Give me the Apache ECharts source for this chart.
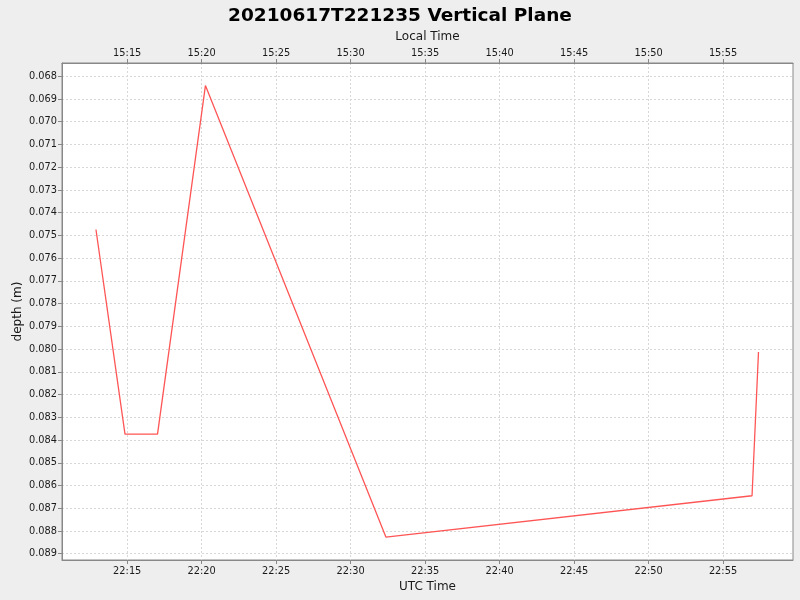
<!DOCTYPE html>
<html>
<head>
<meta charset="utf-8">
<script src="https://cdn.jsdelivr.net/npm/echarts@6/dist/echarts.min.js"></script>
<style>
html,body{margin:0;padding:0;background:#eeeeee;}
#c{width:800px;height:600px;}
</style>
</head>
<body>
<div id="c"></div>
<script>
// UTC times of samples (HH:MM:SS)
const utcTimes = ['22:12:54','22:14:51','22:17:02','22:20:15','22:32:22','22:56:57','22:57:23'];
// depth values (m)
const depths = [0.07474, 0.08374, 0.08374, 0.06841, 0.08827, 0.08645, 0.08013];
// tick labels
const utcTickLabels = ['22:15','22:20','22:25','22:30','22:35','22:40','22:45','22:50','22:55'];
const localTickLabels = ['15:15','15:20','15:25','15:30','15:35','15:40','15:45','15:50','15:55'];
const depthTicks = ['0.068','0.069','0.070','0.071','0.072','0.073','0.074','0.075','0.076','0.077','0.078','0.079','0.080','0.081','0.082','0.083','0.084','0.085','0.086','0.087','0.088','0.089'];

function toMin(s){const p=s.split(':').map(Number);return p[0]*60+p[1]+(p[2]||0)/60;}
const xTickVals = utcTickLabels.map(toMin);
const yTickVals = depthTicks.map(Number);
const seriesData = utcTimes.map((t,i)=>[toMin(t), depths[i]]);

const font = 'DejaVu Sans';
const labelColor = '#1a1a1a';
const fmtUtc = v => { const r=Math.round(v); const i=xTickVals.findIndex(t=>Math.round(t)===r); return i>=0?utcTickLabels[i]:''; };
const fmtLocal = v => { const r=Math.round(v); const i=xTickVals.findIndex(t=>Math.round(t)===r); return i>=0?localTickLabels[i]:''; };

const chart = echarts.init(document.getElementById('c'), null, {renderer:'canvas'});
chart.setOption({
  backgroundColor:'#eeeeee',
  animation:false,
  title:{text:'20210617T221235 Vertical Plane', left:'center', top:2,
    textStyle:{fontFamily:font, fontSize:18.5, fontWeight:'bold', color:'#000'}},
  grid:{left:62, right:7, top:63, bottom:40, containLabel:false, outerBoundsMode:'none',
    show:true, backgroundColor:'#ffffff', borderColor:'#888888', borderWidth:1},
  xAxis:[
    {type:'value', position:'bottom', min:1330.62, max:1379.70,
     name:'UTC Time', nameLocation:'middle', nameGap:20,
     nameTextStyle:{fontFamily:font, fontSize:12, color:labelColor},
     axisLine:{show:true, lineStyle:{color:'#888888'}},
     axisTick:{show:true, length:4, customValues:xTickVals, lineStyle:{color:'#888888'}},
     axisLabel:{customValues:xTickVals, formatter:fmtUtc, fontFamily:font, fontSize:9.8, color:labelColor, margin:6},
     splitLine:{show:true, lineStyle:{color:'#d8d8d8', type:[2,2]}}},
    {type:'value', position:'top', min:1330.62, max:1379.70,
     name:'Local Time', nameLocation:'middle', nameGap:20,
     nameTextStyle:{fontFamily:font, fontSize:12, color:labelColor},
     axisLine:{show:true, lineStyle:{color:'#888888'}},
     axisTick:{show:true, length:4, customValues:xTickVals, lineStyle:{color:'#888888'}},
     axisLabel:{customValues:xTickVals, formatter:fmtLocal, fontFamily:font, fontSize:9.8, color:labelColor, margin:5},
     splitLine:{show:false}}
  ],
  yAxis:{type:'value', inverse:true, min:0.067416, max:0.089277,
     name:'depth (m)', nameLocation:'middle', nameGap:38, nameRotate:90, nameMoveOverlap:false,
     nameTextStyle:{fontFamily:font, fontSize:12, color:labelColor},
     axisLine:{show:true, lineStyle:{color:'#888888'}},
     axisTick:{show:true, length:4, customValues:yTickVals, lineStyle:{color:'#888888'}},
     axisLabel:{customValues:yTickVals, formatter:v=>{const i=yTickVals.findIndex(t=>Math.abs(t-v)<1e-7);return i>=0?depthTicks[i]:'';}, fontFamily:font, fontSize:9.8, color:labelColor, margin:5},
     splitLine:{show:true, lineStyle:{color:'#d8d8d8', type:[2,2]}}},
  series:[{type:'line', xAxisIndex:0, data:seriesData, showSymbol:false, symbol:'none',
     lineStyle:{color:'#ff5555', width:1.3}, itemStyle:{color:'#ff5555'}}]
});
</script>
</body>
</html>
